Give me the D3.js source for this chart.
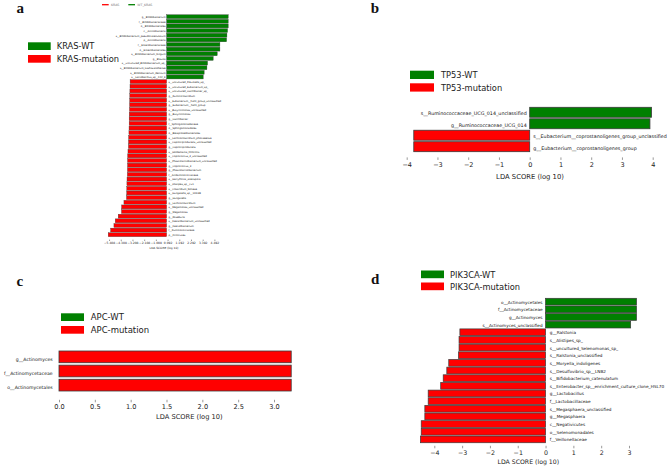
<!DOCTYPE html>
<html><head><meta charset="utf-8">
<script src="https://cdn.jsdelivr.net/npm/d3@7"></script>
<style>
html,body{margin:0;padding:0;background:#fff;}
svg{display:block;font-family:"DejaVu Sans",sans-serif;}
</style></head><body>
<svg id="chart" width="668" height="468"></svg>
<script>
// ---------- Panel a : KRAS ----------
const krasWtTaxa = ["g__Bifidobacterium","f__Bifidobacteriaceae","o__Bifidobacteriales","c__Actinobacteria",
  "s__Bifidobacterium_pseudocatenulatum","p__Actinobacteria","f__Enterobacteriaceae","o__Enterobacteriales",
  "s__Bifidobacterium_longum","g__Blautia","s__uncultured_Bifidobacterium_sp_","s__Bifidobacterium_kashiwanohense",
  "s__Bifidobacterium_dentium","s__Lactobacillus_sp__F22_K"];
const krasWtLda = [5.79,5.79,5.79,5.73,5.67,5.64,5.01,5.01,4.76,4.38,3.85,3.79,3.53,3.44];
const krasMutTaxa = ["s__uncultured_Prevotella_sp_","s__uncultured_Eubacterium_sp_","s__uncultured_Oscillibacter_sp_",
  "g__Ruminiclostridium","s__Eubacterium__hallii_group_unclassified","g__Eubacterium__hallii_group",
  "s__Butyricimonas_unclassified","g__Butyricimonas","g__Oscillibacter","f__Sphingomonadaceae","o__Sphingomonadales",
  "o__Betaproteobacteriales","s__Lachnoclostridium_phocaeense","s__Caproiciproducens_unclassified","g__Caproiciproducens",
  "s__Holdemania_filiformis","s__Coprococcus_3_unclassified","s__Phascolarctobacterium_unclassified","g__Coprococcus_3",
  "g__Phascolarctobacterium","f__Acidaminococcaceae","s__Harryflintia_acetispora","s__Alistipes_sp__cv1",
  "s__Clostridium_bolteae","s__Hungatella_sp__1XD38","g__Hungatella","g__Lachnoclostridium","s__Megamonas_unclassified",
  "g__Megamonas","g__Roseburia","s__Faecalibacterium_unclassified","g__Faecalibacterium","f__Ruminococcaceae","p__Firmicutes"];
const krasMutLda = [-3.43,-3.44,-3.45,-3.46,-3.47,-3.48,-3.49,-3.51,-3.52,-3.52,-3.53,-3.54,-3.57,-3.58,-3.59,-3.63,
  -3.66,-3.67,-3.67,-3.68,-3.69,-3.72,-3.73,-3.74,-3.75,-3.77,-4.01,-4.23,-4.24,-4.55,-4.83,-4.95,-5.26,-5.49];
const krasTicks = [-5.408,-4.308,-3.208,-2.108,-1.008,0.092,1.192,2.292,3.392,4.492];
const krasLegend = ["KRAS-WT","KRAS-mutation"];
const krasTopLegend = ["KRAS","WT_KRAS"];

// ---------- Panel b : TP53 ----------
const tp53Taxa = ["s__Ruminococcaceae_UCG_014_unclassified","g__Ruminococcaceae_UCG_014",
  "s__Eubacterium__coprostanoligenes_group_unclassified","g__Eubacterium__coprostanoligenes_group"];
const tp53Lda = [3.96,3.91,-3.77,-3.77];
const tp53Ticks = [-4,-3,-2,-1,0,1,2,3,4];
const tp53Legend = ["TP53-WT","TP53-mutation"];

// ---------- Panel c : APC ----------
const apcTaxa = ["g__Actinomyces","f__Actinomycetaceae","o__Actinomycetales"];
const apcLda = [3.24,3.24,3.24];
const apcTicks = [0,0.5,1.0,1.5,2.0,2.5,3.0];
const apcLegend = ["APC-WT","APC-mutation"];

// ---------- Panel d : PIK3CA ----------
const pikTaxa = ["o__Actinomycetales","f__Actinomycetaceae","g__Actinomyces","s__Actinomyces_unclassified",
  "g__Ralstonia","s__Alistipes_sp_","s__uncultured_Selenomonas_sp_","s__Ralstonia_unclassified",
  "s__Moryella_indoligenes","s__Desulfovibrio_sp__LNB2","s__Bifidobacterium_catenulatum",
  "s__Enterobacter_sp__enrichment_culture_clone_HSL70","g__Lactobacillus","f__Lactobacillaceae",
  "s__Megasphaera_unclassified","g__Megasphaera","c__Negativicutes","o__Selenomonadales","f__Veillonellaceae"];
const pikLda = [3.27,3.27,3.27,3.06,-3.08,-3.11,-3.11,-3.13,-3.48,-3.55,-3.68,-3.77,-4.22,-4.22,-4.34,-4.34,-4.47,-4.47,-4.50];
const pikTicks = [-4,-3,-2,-1,0,1,2,3];
const pikLegend = ["PIK3CA-WT","PIK3CA-mutation"];

const axisTitle = "LDA SCORE (log 10)";
const panelLetters = ["a","b","c","d"];

// ---------- drawing ----------
const GREEN = "#008000", RED = "#ff0000";
const svg = d3.select("#chart");
svg.append("rect").attr("width",668).attr("height",468).attr("fill","#fff");

function drawPanel(p) {
  const g = svg.append("g");
  const x = d3.scaleLinear().domain(p.xDomain).range(p.xRange);
  const y = d3.scaleBand().domain(p.taxa).range(p.yRange).paddingInner(p.padIn).paddingOuter(p.padOut);
  const rows = p.taxa.map((t,i) => ({taxon:t, lda:p.lda[i]}));
  const bw = y.bandwidth();
  g.selectAll("rect.bar").data(rows).join("rect")
    .attr("class","bar")
    .attr("x", d => x(Math.min(0,d.lda)))
    .attr("width", d => Math.abs(x(d.lda) - x(0)))
    .attr("y", d => y(d.taxon))
    .attr("height", bw)
    .attr("fill", d => p.colorOf(d))
    .attr("stroke", "#3a3a3a")
    .attr("stroke-width", p.strokeW);
  g.selectAll("text.lab").data(rows).join("text")
    .attr("class","lab")
    .attr("x", d => d.lda >= 0 ? x(0) - p.labGapL : x(0) + p.labGapR)
    .attr("y", d => y(d.taxon) + bw * p.labF)
    .attr("text-anchor", d => d.lda >= 0 ? "end" : "start")
    .attr("font-size", p.labFont)
    .attr("fill", "#111")
    .text(d => d.taxon);
  const ax = d3.axisBottom(x).tickValues(p.ticks).tickFormat(p.fmt).tickSize(p.tickSize).tickPadding(p.tickPad);
  const ag = g.append("g").attr("transform", `translate(0,${p.axisY})`).call(ax)
    .attr("font-family","DejaVu Sans").attr("font-size", p.tickFont);
  ag.select(".domain").remove();
  ag.selectAll(".tick line").attr("stroke","#555").attr("stroke-width",0.6);
  ag.selectAll(".tick text").attr("fill","#222");
  g.append("text").attr("x", p.titleX).attr("y", p.titleY).attr("text-anchor","middle")
    .attr("font-size", p.titleFont).attr("fill","#222").text(axisTitle);
  // legend
  const L = p.legend;
  [GREEN, RED].forEach((c,i) => {
    g.append("rect").attr("x", L.x).attr("y", L.y + i*L.dy).attr("width", L.w).attr("height", L.h).attr("fill", c);
    g.append("text").attr("x", L.tx).attr("y", L.y + i*L.dy + L.h - 0.6).attr("font-size", L.font)
      .attr("fill","#222").text(p.legendNames[i]);
  });
  g.append("text").attr("x", p.letter.x).attr("y", p.letter.y).attr("font-family","Liberation Serif")
    .attr("font-weight","bold").attr("font-size",15).attr("fill","#111").text(p.letter.t);
  return g;
}

const signColor = d => d.lda >= 0 ? GREEN : RED;

// Panel a
const ga = drawPanel({
  taxa: krasWtTaxa.concat(krasMutTaxa), lda: krasWtLda.concat(krasMutLda),
  xDomain:[-6,6], xRange:[166.6-6*10.64, 166.6+6*10.64],
  yRange:[14.35, 237.05], padIn:0.16, padOut:0.08, colorOf:signColor, strokeW:0.35,
  labGapL:1.0, labGapR:1.8, labF:0.85, labFont:2.5,
  ticks:krasTicks, fmt:d3.format(".3f"), axisY:239.6, tickSize:1.4, tickPad:1.0, tickFont:3.0,
  titleX:164, titleY:249, titleFont:2.9,
  legend:{x:28, y:42.3, w:22.7, h:7.7, dy:12.7, tx:56.7, font:8.3}, legendNames:krasLegend,
  letter:{x:16.5, y:12.7, t:panelLetters[0]}
});
// tiny top legend of panel a
[RED, GREEN].forEach((c,i) => {
  const x0 = i === 0 ? 102 : 128.3;
  ga.append("line").attr("x1",x0).attr("x2",x0+6.7).attr("y1",4.7).attr("y2",4.7)
    .attr("stroke",c).attr("stroke-width",1.3);
  ga.append("text").attr("x",x0+9).attr("y",6).attr("font-size",3.2).attr("fill","#777").text(krasTopLegend[i]);
});

// Panel b
drawPanel({
  taxa: tp53Taxa, lda: tp53Lda,
  xDomain:[-4,4], xRange:[406.7,652.7],
  yRange:[106.55,152.43], padIn:0.13, padOut:0.065, colorOf:signColor, strokeW:0.8,
  labGapL:3.0, labGapR:3.6, labF:0.8, labFont:4.8,
  ticks:tp53Ticks, fmt:d3.format("d"), axisY:157.4, tickSize:2.5, tickPad:2.0, tickFont:6.5,
  titleX:530, titleY:178.5, titleFont:6.8,
  legend:{x:410, y:70.7, w:24, h:8.3, dy:12.6, tx:441, font:8.3}, legendNames:tp53Legend,
  letter:{x:370.7, y:13.3, t:panelLetters[1]}
});

// Panel c
drawPanel({
  taxa: apcTaxa, lda: apcLda,
  xDomain:[0,3.3], xRange:[59, 59+3.3*71.67],
  yRange:[349.8,392.2], padIn:0.17, padOut:0.085, colorOf:() => RED, strokeW:0.8,
  labGapL:6.3, labGapR:3, labF:0.84, labFont:4.6,
  ticks:apcTicks, fmt:d3.format(".1f"), axisY:399.8, tickSize:2.5, tickPad:2.0, tickFont:6.6,
  titleX:189.3, titleY:419, titleFont:6.7,
  legend:{x:61, y:313.3, w:23, h:7.7, dy:12.7, tx:90.7, font:8.5}, legendNames:apcLegend,
  letter:{x:16.5, y:286, t:panelLetters[2]}
});

// Panel d
drawPanel({
  taxa: pikTaxa, lda: pikLda,
  xDomain:[-4,3], xRange:[434.3,629],
  yRange:[297.84,443.2], padIn:0.12, padOut:0.06, colorOf:signColor, strokeW:0.7,
  labGapL:3.0, labGapR:4.3, labF:0.8, labFont:4.2,
  ticks:pikTicks, fmt:d3.format("d"), axisY:445.8, tickSize:2.5, tickPad:1.8, tickFont:6.3,
  titleX:528.3, titleY:464.2, titleFont:6.2,
  legend:{x:421, y:270.5, w:23, h:7.7, dy:12, tx:450, font:8.3}, legendNames:pikLegend,
  letter:{x:371, y:284, t:panelLetters[3]}
});
</script>
</body></html>
